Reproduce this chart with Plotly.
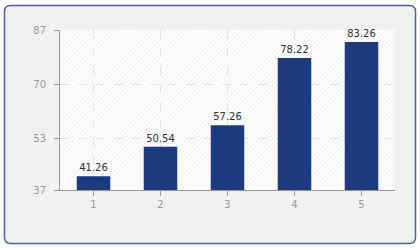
import plotly.graph_objects as go

categories = ["1", "2", "3", "4", "5"]
values = [41.26, 50.54, 57.26, 78.22, 83.26]
y_ticks = [37, 53, 70, 87]

W, H = 420, 250
L, R, T, B = 60, 25, 30, 60
X0, X1, Y0, Y1 = L, W - R, T, H - B
pw, ph = X1 - X0, Y1 - Y0

def px(X):
    return (X - X0) / pw

def py(Y):
    return (Y1 - Y) / ph

fig = go.Figure()
fig.add_trace(go.Bar(
    x=categories, y=values, width=0.5,
    marker=dict(color="#1b3a80", line=dict(width=0)),
    text=[f"{v:.2f}" for v in values], textposition="outside",
    textfont=dict(family="DejaVu Sans", size=10, color="#333333"),
    cliponaxis=False,
))

shapes = []
# outer rounded box
r = 6
bx0, by0, bx1, by1 = 4.5, 5.5, 415.5, 243.5
path = (f"M {px(bx0+r)},{py(by0)} L {px(bx1-r)},{py(by0)} "
        f"Q {px(bx1)},{py(by0)} {px(bx1)},{py(by0+r)} "
        f"L {px(bx1)},{py(by1-r)} Q {px(bx1)},{py(by1)} {px(bx1-r)},{py(by1)} "
        f"L {px(bx0+r)},{py(by1)} Q {px(bx0)},{py(by1)} {px(bx0)},{py(by1-r)} "
        f"L {px(bx0)},{py(by0+r)} Q {px(bx0)},{py(by0)} {px(bx0+r)},{py(by0)} Z")
shapes.append(dict(type="path", xref="paper", yref="paper", path=path,
                   fillcolor="#f0f0f0", line=dict(color="#4d62a3", width=1.5),
                   layer="below"))
# plot area white
shapes.append(dict(type="rect", xref="paper", yref="paper", x0=0, x1=1, y0=0, y1=1,
                   fillcolor="#fdfdfd", line=dict(width=0), layer="below"))
# hatch
c = X0 + Y0 + 2
while c < X1 + Y1:
    xa = max(X0, c - Y1)
    xb = min(X1, c - Y0)
    if xb > xa:
        shapes.append(dict(type="line", xref="paper", yref="paper",
                           x0=px(xa), y0=py(c - xa), x1=px(xb), y1=py(c - xb),
                           line=dict(color="#efefef", width=1), layer="below"))
    c += 4.5

fig.update_layout(
    width=W, height=H,
    margin=dict(l=L, r=R, t=T, b=B, pad=0),
    paper_bgcolor="white", plot_bgcolor="rgba(0,0,0,0)",
    showlegend=False, shapes=shapes,
    font=dict(family="DejaVu Sans", size=10, color="#999999"),
    xaxis=dict(type="category", range=[-0.5, 4.5], showline=True, linecolor="#999999",
               linewidth=1, ticks="outside", ticklen=5, tickcolor="#999999",
               showgrid=True, gridcolor="#e4e4e4", griddash="dash", gridwidth=1,
               tickfont=dict(size=10, color="#999999"), zeroline=False),
    yaxis=dict(range=[37, 87], tickvals=y_ticks, showline=True, linecolor="#999999",
               linewidth=1, ticks="outside", ticklen=5, tickcolor="#999999",
               showgrid=True, gridcolor="#e4e4e4", griddash="dash", gridwidth=1,
               tickfont=dict(size=10, color="#999999"), zeroline=False,
               ticklabelstandoff=6),
)

fig.write_html("out.html")
